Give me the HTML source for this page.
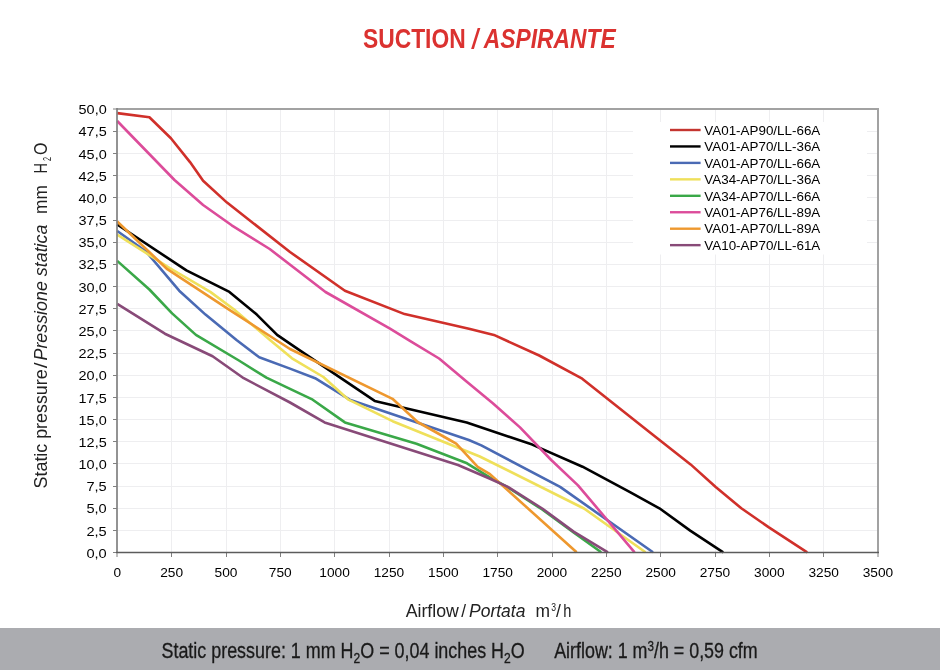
<!DOCTYPE html>
<html><head><meta charset="utf-8"><style>
html,body{margin:0;padding:0;background:#fff;}
body{width:940px;height:670px;position:relative;overflow:hidden;font-family:"Liberation Sans",sans-serif;}
svg{position:absolute;left:0;top:0;will-change:transform;}
</style></head><body>
<svg width="940" height="670" viewBox="0 0 940 670">
<rect x="0" y="628" width="940" height="42" fill="#abacb0"/>
<g font-family="Liberation Sans, sans-serif" font-weight="bold" font-size="27.5" fill="#db3230">
<text x="363" y="48.3" textLength="252.7" lengthAdjust="spacingAndGlyphs">SUCTION <tspan font-style="italic">/ ASPIRANTE</tspan></text>
</g>
<path d="M171.50 110V552M226.50 110V552M280.50 110V552M334.50 110V552M389.50 110V552M443.50 110V552M497.50 110V552M552.50 110V552M606.50 110V552M660.50 110V552M715.50 110V552M769.50 110V552M823.50 110V552M118 530.50H877M118 508.50H877M118 486.50H877M118 463.50H877M118 441.50H877M118 419.50H877M118 397.50H877M118 375.50H877M118 353.50H877M118 330.50H877M118 308.50H877M118 286.50H877M118 264.50H877M118 242.50H877M118 220.50H877M118 197.50H877M118 175.50H877M118 153.50H877M118 131.50H877" stroke="#eeeef0" stroke-width="1" fill="none"/>
<rect x="633" y="122" width="234" height="132.5" fill="#fff"/>
<path d="M117 109H878V552" stroke="#a2a2a2" stroke-width="2" fill="none"/>
<path d="M113 552.50H117M113 530.50H117M113 508.50H117M113 486.50H117M113 463.50H117M113 441.50H117M113 419.50H117M113 397.50H117M113 375.50H117M113 353.50H117M113 330.50H117M113 308.50H117M113 286.50H117M113 264.50H117M113 242.50H117M113 220.50H117M113 197.50H117M113 175.50H117M113 153.50H117M113 131.50H117M113 109.00H117M117.00 552V557M171.50 552V557M226.50 552V557M280.50 552V557M334.50 552V557M389.50 552V557M443.50 552V557M497.50 552V557M552.50 552V557M606.50 552V557M660.50 552V557M715.50 552V557M769.50 552V557M823.50 552V557M878.00 552V557" stroke="#808080" stroke-width="1" fill="none"/>
<path d="M117.2 113.1 L149.4 117.2 L170.9 138.2 L190.0 162.1 L203.1 180.7 L227.0 202.6 L290.0 252.0 L344.9 290.7 L404.6 314.1 L470.0 328.9 L493.9 334.9 L539.2 355.5 L582.2 378.7 L650.0 432.6 L690.6 464.4 L715.7 487.0 L741.3 508.3 L768.9 527.4 L807.2 552.3" stroke="#d0302a" stroke-width="2.6" fill="none" stroke-linejoin="round"/>
<path d="M117.2 224.5 L186.4 270.4 L229.4 291.9 L256.8 314.6 L277.1 334.9 L299.8 350.4 L374.7 400.9 L466.7 422.4 L532.2 444.6 L582.5 466.7 L630.0 492.1 L659.4 508.3 L690.2 530.6 L723.2 552.3" stroke="#000000" stroke-width="2.6" fill="none" stroke-linejoin="round"/>
<path d="M117.2 231.0 L145.8 251.3 L179.2 290.7 L205.5 314.6 L236.5 340.0 L259.2 357.2 L290.0 368.6 L315.1 378.2 L349.7 399.7 L468.8 440.0 L481.3 445.4 L560.1 486.9 L653.0 552.3" stroke="#4a6ab4" stroke-width="2.6" fill="none" stroke-linejoin="round"/>
<path d="M117.2 234.6 L169.7 268.0 L210.3 291.9 L234.1 309.5 L270.0 340.0 L292.0 358.3 L323.4 377.0 L348.5 399.7 L392.6 421.2 L479.8 456.5 L584.0 508.5 L630.0 541.3 L645.5 552.3" stroke="#efe05a" stroke-width="2.6" fill="none" stroke-linejoin="round"/>
<path d="M117.2 260.9 L149.4 289.5 L172.1 313.4 L195.9 334.9 L238.9 360.5 L266.4 377.7 L290.0 388.9 L312.7 399.7 L344.9 422.4 L416.5 443.8 L467.0 463.3 L488.5 476.7 L507.9 487.5 L542.2 509.5 L573.6 532.5 L601.2 552.3" stroke="#3aa848" stroke-width="2.6" fill="none" stroke-linejoin="round"/>
<path d="M117.2 121.0 L174.5 180.0 L203.1 205.0 L231.7 225.3 L269.7 249.0 L325.5 292.0 L390.0 328.7 L409.5 340.6 L439.1 358.5 L465.9 380.9 L492.8 403.2 L520.0 427.4 L551.2 460.0 L578.0 485.4 L634.6 552.3" stroke="#dc4c9a" stroke-width="2.6" fill="none" stroke-linejoin="round"/>
<path d="M117.2 221.5 L167.3 269.2 L229.4 309.8 L290.0 349.0 L392.5 398.8 L417.6 422.0 L448.0 439.0 L456.2 443.6 L477.7 466.9 L490.0 474.2 L576.6 552.3" stroke="#ee982e" stroke-width="2.6" fill="none" stroke-linejoin="round"/>
<path d="M117.2 303.8 L164.9 333.7 L212.6 356.2 L243.7 378.2 L290.0 402.5 L324.6 422.4 L458.0 465.0 L490.0 478.7 L507.9 486.9 L542.2 508.5 L573.6 531.6 L607.9 552.3" stroke="#884a78" stroke-width="2.6" fill="none" stroke-linejoin="round"/>
<path d="M117 108V553" stroke="#808080" stroke-width="1.7" fill="none"/>
<path d="M116 552.5H879" stroke="#5c5c5c" stroke-width="1.4" fill="none"/>
<g font-family="Liberation Sans, sans-serif" font-size="13.5" fill="#000"><text x="106.7" y="557.70" text-anchor="end" textLength="20.3" lengthAdjust="spacingAndGlyphs">0,0</text><text x="106.7" y="535.53" text-anchor="end" textLength="20.3" lengthAdjust="spacingAndGlyphs">2,5</text><text x="106.7" y="513.36" text-anchor="end" textLength="20.3" lengthAdjust="spacingAndGlyphs">5,0</text><text x="106.7" y="491.19" text-anchor="end" textLength="20.3" lengthAdjust="spacingAndGlyphs">7,5</text><text x="106.7" y="469.02" text-anchor="end" textLength="28.1" lengthAdjust="spacingAndGlyphs">10,0</text><text x="106.7" y="446.85" text-anchor="end" textLength="28.1" lengthAdjust="spacingAndGlyphs">12,5</text><text x="106.7" y="424.68" text-anchor="end" textLength="28.1" lengthAdjust="spacingAndGlyphs">15,0</text><text x="106.7" y="402.51" text-anchor="end" textLength="28.1" lengthAdjust="spacingAndGlyphs">17,5</text><text x="106.7" y="380.34" text-anchor="end" textLength="28.1" lengthAdjust="spacingAndGlyphs">20,0</text><text x="106.7" y="358.17" text-anchor="end" textLength="28.1" lengthAdjust="spacingAndGlyphs">22,5</text><text x="106.7" y="336.00" text-anchor="end" textLength="28.1" lengthAdjust="spacingAndGlyphs">25,0</text><text x="106.7" y="313.83" text-anchor="end" textLength="28.1" lengthAdjust="spacingAndGlyphs">27,5</text><text x="106.7" y="291.66" text-anchor="end" textLength="28.1" lengthAdjust="spacingAndGlyphs">30,0</text><text x="106.7" y="269.49" text-anchor="end" textLength="28.1" lengthAdjust="spacingAndGlyphs">32,5</text><text x="106.7" y="247.32" text-anchor="end" textLength="28.1" lengthAdjust="spacingAndGlyphs">35,0</text><text x="106.7" y="225.15" text-anchor="end" textLength="28.1" lengthAdjust="spacingAndGlyphs">37,5</text><text x="106.7" y="202.98" text-anchor="end" textLength="28.1" lengthAdjust="spacingAndGlyphs">40,0</text><text x="106.7" y="180.81" text-anchor="end" textLength="28.1" lengthAdjust="spacingAndGlyphs">42,5</text><text x="106.7" y="158.64" text-anchor="end" textLength="28.1" lengthAdjust="spacingAndGlyphs">45,0</text><text x="106.7" y="136.47" text-anchor="end" textLength="28.1" lengthAdjust="spacingAndGlyphs">47,5</text><text x="106.7" y="114.30" text-anchor="end" textLength="28.1" lengthAdjust="spacingAndGlyphs">50,0</text><text x="117.30" y="576.6" text-anchor="middle" textLength="7.6" lengthAdjust="spacingAndGlyphs">0</text><text x="171.64" y="576.6" text-anchor="middle" textLength="22.9" lengthAdjust="spacingAndGlyphs">250</text><text x="225.97" y="576.6" text-anchor="middle" textLength="22.9" lengthAdjust="spacingAndGlyphs">500</text><text x="280.31" y="576.6" text-anchor="middle" textLength="22.9" lengthAdjust="spacingAndGlyphs">750</text><text x="334.64" y="576.6" text-anchor="middle" textLength="30.5" lengthAdjust="spacingAndGlyphs">1000</text><text x="388.98" y="576.6" text-anchor="middle" textLength="30.5" lengthAdjust="spacingAndGlyphs">1250</text><text x="443.31" y="576.6" text-anchor="middle" textLength="30.5" lengthAdjust="spacingAndGlyphs">1500</text><text x="497.65" y="576.6" text-anchor="middle" textLength="30.5" lengthAdjust="spacingAndGlyphs">1750</text><text x="551.99" y="576.6" text-anchor="middle" textLength="30.5" lengthAdjust="spacingAndGlyphs">2000</text><text x="606.32" y="576.6" text-anchor="middle" textLength="30.5" lengthAdjust="spacingAndGlyphs">2250</text><text x="660.66" y="576.6" text-anchor="middle" textLength="30.5" lengthAdjust="spacingAndGlyphs">2500</text><text x="714.99" y="576.6" text-anchor="middle" textLength="30.5" lengthAdjust="spacingAndGlyphs">2750</text><text x="769.33" y="576.6" text-anchor="middle" textLength="30.5" lengthAdjust="spacingAndGlyphs">3000</text><text x="823.66" y="576.6" text-anchor="middle" textLength="30.5" lengthAdjust="spacingAndGlyphs">3250</text><text x="878.00" y="576.6" text-anchor="middle" textLength="30.5" lengthAdjust="spacingAndGlyphs">3500</text></g>
<g font-family="Liberation Sans, sans-serif" font-size="12.5" fill="#000"><path d="M670 130.00H700.6" stroke="#c4352f" stroke-width="2.4"/><text x="704.3" y="134.70" textLength="116" lengthAdjust="spacingAndGlyphs">VA01-AP90/LL-66A</text><path d="M670 146.45H700.6" stroke="#000000" stroke-width="2.4"/><text x="704.3" y="151.15" textLength="116" lengthAdjust="spacingAndGlyphs">VA01-AP70/LL-36A</text><path d="M670 162.90H700.6" stroke="#4a6ab4" stroke-width="2.4"/><text x="704.3" y="167.60" textLength="116" lengthAdjust="spacingAndGlyphs">VA01-AP70/LL-66A</text><path d="M670 179.35H700.6" stroke="#efe05a" stroke-width="2.4"/><text x="704.3" y="184.05" textLength="116" lengthAdjust="spacingAndGlyphs">VA34-AP70/LL-36A</text><path d="M670 195.80H700.6" stroke="#3aa848" stroke-width="2.4"/><text x="704.3" y="200.50" textLength="116" lengthAdjust="spacingAndGlyphs">VA34-AP70/LL-66A</text><path d="M670 212.25H700.6" stroke="#dc4c9a" stroke-width="2.4"/><text x="704.3" y="216.95" textLength="116" lengthAdjust="spacingAndGlyphs">VA01-AP76/LL-89A</text><path d="M670 228.70H700.6" stroke="#ee982e" stroke-width="2.4"/><text x="704.3" y="233.40" textLength="116" lengthAdjust="spacingAndGlyphs">VA01-AP70/LL-89A</text><path d="M670 245.15H700.6" stroke="#884a78" stroke-width="2.4"/><text x="704.3" y="249.85" textLength="116" lengthAdjust="spacingAndGlyphs">VA10-AP70/LL-61A</text></g>
<g font-family="Liberation Sans, sans-serif" font-size="18.5" fill="#222">
<text transform="translate(47.2 488.4) rotate(-90)" textLength="119.0" lengthAdjust="spacingAndGlyphs" >Static pressure</text><text transform="translate(47.2 368.3) rotate(-90)" textLength="5.8" lengthAdjust="spacingAndGlyphs" >/</text><text transform="translate(47.2 360.5) rotate(-90)" textLength="135.9" lengthAdjust="spacingAndGlyphs" font-style="italic">Pressione statica</text><text transform="translate(47.2 213.9) rotate(-90)" textLength="28.7" lengthAdjust="spacingAndGlyphs" >mm</text><text transform="translate(47.2 173.4) rotate(-90)" textLength="10.5" lengthAdjust="spacingAndGlyphs" >H</text><text transform="translate(50.8 161.0) rotate(-90)" font-size="10" textLength="4.0" lengthAdjust="spacingAndGlyphs">2</text><text transform="translate(47.2 155.0) rotate(-90)" textLength="12.4" lengthAdjust="spacingAndGlyphs" >O</text>
</g>
<g font-family="Liberation Sans, sans-serif" font-size="17.5" fill="#222">
<text x="405.7" y="616.5" textLength="53.2" lengthAdjust="spacingAndGlyphs">Airflow</text><text x="461.3" y="616.5" textLength="4.8" lengthAdjust="spacingAndGlyphs">/</text><text x="469" y="616.5" textLength="56.4" font-style="italic" lengthAdjust="spacingAndGlyphs">Portata</text><text x="535.5" y="616.5" textLength="14.5" lengthAdjust="spacingAndGlyphs">m</text><text x="551.3" y="610.8" font-size="11" textLength="4.8" lengthAdjust="spacingAndGlyphs">3</text><text x="556" y="616.5" textLength="4.9" lengthAdjust="spacingAndGlyphs">/</text><text x="563.3" y="616.5" textLength="8.1" lengthAdjust="spacingAndGlyphs">h</text>
</g>
<g font-family="Liberation Sans, sans-serif" font-size="21.5" fill="#1a1a1a" stroke="#1a1a1a" stroke-width="0.3">
<text x="161.5" y="658.0" textLength="363.2" lengthAdjust="spacingAndGlyphs">Static pressure: 1 mm H<tspan font-size="14.5" dy="4.5">2</tspan><tspan dy="-4.5">O = 0,04 inches H</tspan><tspan font-size="14.5" dy="4.5">2</tspan><tspan dy="-4.5">O</tspan></text>
<text x="554.2" y="658.0" textLength="203.5" lengthAdjust="spacingAndGlyphs">Airflow: 1 m<tspan font-size="14" dy="-7.5">3</tspan><tspan dy="7.5">/h = 0,59 cfm</tspan></text>
</g>
</svg>
</body></html>
